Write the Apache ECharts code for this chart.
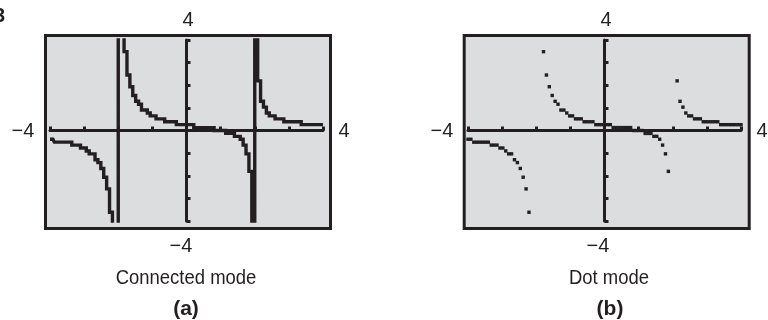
<!DOCTYPE html>
<html>
<head>
<meta charset="utf-8">
<script src="https://cdn.jsdelivr.net/npm/echarts@6/dist/echarts.min.js"></script>
<style>html,body{margin:0;padding:0;background:#fff;}#c{width:768px;height:320px;}</style>
</head>
<body>
<div id="c"></div>
<script>
// Calculator pixel columns (x) read from the screens
const xCols = [-4.000, -3.915, -3.830, -3.745, -3.660, -3.574, -3.489, -3.404, -3.319, -3.234,
  -3.149, -3.064, -2.979, -2.894, -2.809, -2.723, -2.638, -2.553, -2.468, -2.383,
  -2.298, -2.213, -2.128, -2.043, -1.957, -1.872, -1.787, -1.702, -1.617, -1.532,
  -1.447, -1.362, -1.277, -1.191, -1.106, -1.021, -0.936, -0.851, -0.766, -0.681,
  -0.596, -0.511, -0.426, -0.340, -0.255, -0.170, -0.085, 0.000, 0.085, 0.170,
  0.255, 0.340, 0.426, 0.511, 0.596, 0.681, 0.766, 0.851, 0.936, 1.021,
  1.106, 1.191, 1.277, 1.362, 1.447, 1.532, 1.617, 1.702, 1.787, 1.872,
  1.957, 2.043, 2.128, 2.213, 2.298, 2.383, 2.468, 2.553, 2.638, 2.723,
  2.809, 2.894, 2.979, 3.064, 3.149, 3.234, 3.319, 3.404, 3.489, 3.574,
  3.660, 3.745, 3.830, 3.915, 4.000];
// y values read from the plotted pixels (off-screen ones estimated)
const yVals = [-0.387, -0.387, -0.516, -0.516, -0.516, -0.516, -0.516, -0.516, -0.645, -0.645,
  -0.645, -0.774, -0.774, -0.903, -1.032, -1.032, -1.290, -1.419, -1.677, -2.065,
  -2.581, -3.613, -5.9, -17.7, 17.6, 5.8, 3.484, 2.452, 1.935, 1.548,
  1.290, 1.161, 0.903, 0.903, 0.774, 0.645, 0.645, 0.516, 0.516, 0.516,
  0.387, 0.387, 0.387, 0.387, 0.258, 0.258, 0.258, 0.258, 0.258, 0.258,
  0.129, 0.129, 0.129, 0.129, 0.129, 0.129, 0.129, 0, 0, 0,
  0, -0.129, -0.129, -0.129, -0.258, -0.258, -0.387, -0.645, -1.032, -1.806,
  -5.7, 6.1, 2.194, 1.290, 1.032, 0.774, 0.645, 0.645, 0.516, 0.516,
  0.516, 0.387, 0.387, 0.387, 0.387, 0.387, 0.387, 0.258, 0.258, 0.258,
  0.258, 0.258, 0.258, 0.258, 0.258];
const windowMin = -4;
const windowMax = 4;
const windowStep = 1;
const xMinLabel = '\u22124';
const xMaxLabel = '4';
const yMinLabel = '\u22124';
const yMaxLabel = '4';
const captions = ['Connected mode', 'Dot mode'];
const panelLetters = ['(a)', '(b)'];
const figureTag = '3';

const INK = '#231f20';
const SCREEN = '#dcdddf';
const pts = xCols.map((x, i) => [x, yVals[i]]);

function ax(g) {
  return {
    type: 'value', gridIndex: g, min: windowMin, max: windowMax, interval: windowStep, z: 3,
    axisLine: { onZero: true, lineStyle: { color: INK, width: 3 } },
    axisTick: { inside: true, length: 4, lineStyle: { color: INK, width: 3 } },
    axisLabel: { show: false }, splitLine: { show: false }
  };
}
function txt(s, x, y, font, sx) {
  return { type: 'text', x: x, y: y, z: 10, scaleX: sx || 1,
    style: { text: s, font: font, fill: INK, textAlign: 'center', textVerticalAlign: 'middle' } };
}
const labFont = '20px "Liberation Sans", Arial, sans-serif';
const capFont = '21px "Liberation Sans", Arial, sans-serif';
const letFont = 'bold 21px "Liberation Sans", Arial, sans-serif';

const chart = echarts.init(document.getElementById('c'), null, { renderer: 'canvas' });
chart.setOption({
  animation: false,
  backgroundColor: '#ffffff',
  grid: [
    { left: 50, top: 40, width: 273, height: 181 },
    { left: 468, top: 40, width: 273, height: 181 }
  ],
  xAxis: [ax(0), ax(1)],
  yAxis: [ax(0), ax(1)],
  series: [
    { type: 'line', xAxisIndex: 0, yAxisIndex: 0, data: pts, step: 'middle', showSymbol: false,
      clip: true, z: 4, lineStyle: { color: INK, width: 3.4, cap: 'butt', join: 'miter' } },
    { type: 'scatter', xAxisIndex: 1, yAxisIndex: 1, data: pts, symbol: 'rect', symbolSize: 3.4,
      clip: true, z: 4, itemStyle: { color: INK, opacity: 1 } }
  ],
  graphic: [
    { type: 'rect', z: 0, shape: { x: 45.5, y: 35.5, width: 285, height: 193 },
      style: { fill: SCREEN, stroke: INK, lineWidth: 3 } },
    { type: 'rect', z: 0, shape: { x: 464.2, y: 35.5, width: 285, height: 193 },
      style: { fill: SCREEN, stroke: INK, lineWidth: 3 } },
    txt(yMaxLabel, 188, 20, labFont),
    txt(yMinLabel, 181, 246, labFont),
    txt(xMinLabel, 23, 131, labFont),
    txt(xMaxLabel, 344, 131, labFont),
    txt(captions[0], 186, 278, capFont, 0.88),
    txt(panelLetters[0], 186, 309, letFont),
    txt(yMaxLabel, 606, 20, labFont),
    txt(yMinLabel, 598, 246, labFont),
    txt(xMinLabel, 442, 131, labFont),
    txt(xMaxLabel, 762, 131, labFont),
    txt(captions[1], 609, 278, capFont, 0.88),
    txt(panelLetters[1], 610, 309, letFont),
    { type: 'text', x: 5, y: 16, z: 10,
      style: { text: figureTag, font: 'bold 20px "Liberation Sans", Arial, sans-serif', fill: INK,
        textAlign: 'right', textVerticalAlign: 'middle' } }
  ]
});
</script>
</body>
</html>
